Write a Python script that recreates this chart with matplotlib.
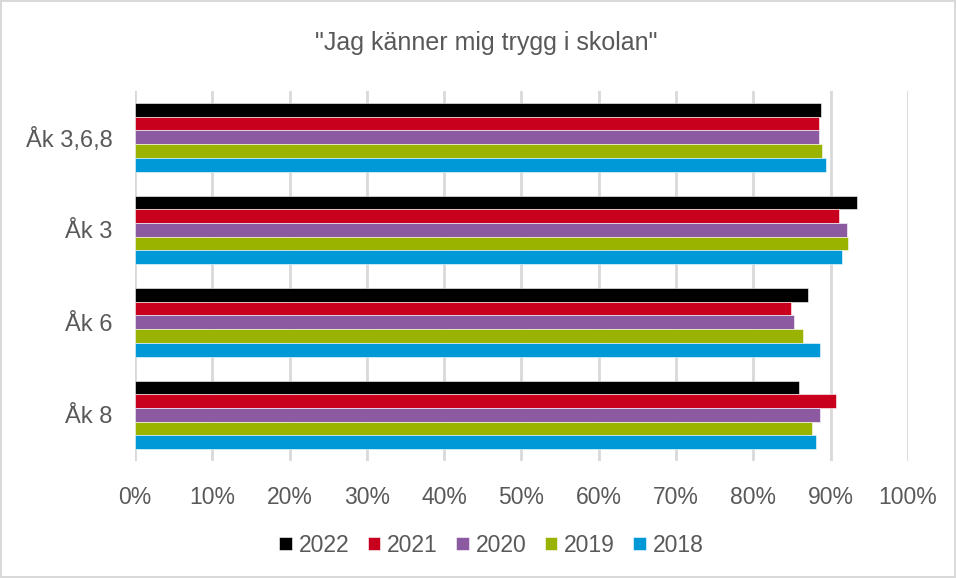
import matplotlib.pyplot as plt
import numpy as np
from matplotlib.ticker import PercentFormatter

plt.rcParams['font.family'] = ['Liberation Sans', 'DejaVu Sans']

categories = ['Åk 3,6,8', 'Åk 3', 'Åk 6', 'Åk 8']
years = ['2022', '2021', '2020', '2019', '2018']
colors = ['#000000', '#C8001E', '#8B5AA0', '#99B300', '#0099D8']

# values in percent, one list per year (order follows categories)
v2022 = [88.7, 93.4, 87.1, 85.9]
v2021 = [88.5, 91.1, 84.8, 90.7]
v2020 = [88.5, 92.1, 85.3, 88.6]
v2019 = [88.9, 92.2, 86.4, 87.6]
v2018 = [89.4, 91.4, 88.6, 88.1]
series = [v2022, v2021, v2020, v2019, v2018]

fig = plt.figure(figsize=(9.56, 5.78), dpi=100)
fig.patch.set_edgecolor('#D9D9D9')
fig.patch.set_linewidth(1.5)
ax = fig.add_axes([0.1412, 0.2024, 0.8086, 0.640])

y = np.arange(len(categories))
h = 0.148
for j, (vals, col, yr) in enumerate(zip(series, colors, years)):
    ax.barh(y + (j - 2) * h, vals, height=h, color=col, label=yr,
            edgecolor='white', linewidth=0.4, zorder=3)

ax.set_xlim(0, 100)
ax.set_ylim(len(categories) - 0.5, -0.5)
ax.set_xticks(np.arange(0, 101, 10))
ax.xaxis.set_major_formatter(PercentFormatter(decimals=0))
ax.set_yticks(y)
ax.set_yticklabels(categories)
ax.grid(axis='x', color='#D9D9D9', linewidth=2, zorder=0)
for s in ax.spines.values():
    s.set_visible(False)
ax.tick_params(axis='x', length=0, pad=18, labelsize=16.5, labelcolor='#595959')
ax.tick_params(axis='y', length=0, pad=16, labelsize=17, labelcolor='#595959')

fig.text(0.509, 0.925, '"Jag känner mig trygg i skolan"', ha='center', va='center',
         fontsize=18, color='#595959')

fig.legend(loc='center', bbox_to_anchor=(0.514, 0.057), ncol=5, frameon=False,
           fontsize=16.5, handlelength=0.55, handleheight=0.55, handletextpad=0.3,
           columnspacing=0.8, labelcolor='#595959')

fig.savefig('out.png', dpi=100, edgecolor=fig.get_edgecolor())
